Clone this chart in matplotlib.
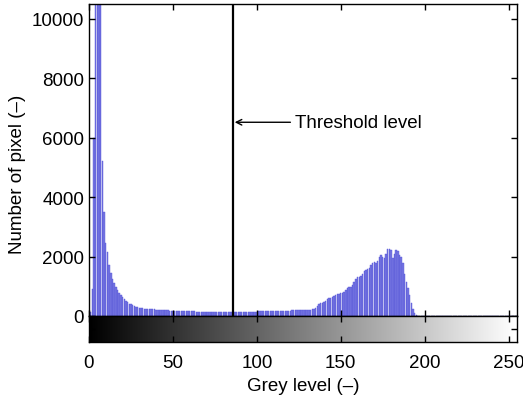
import numpy as np
import matplotlib
matplotlib.use("Agg")
import matplotlib.pyplot as plt

plt.rcParams['font.family'] = ['Liberation Sans', 'DejaVu Sans']

# histogram counts for grey levels 0..255
counts_0_39 = [0, 150, 900, 6000, 16000, 22000, 18000, 12500, 5200, 3500,
               2450, 2150, 1700, 1450, 1250, 1100, 980, 870, 780, 700,
               640, 580, 520, 470, 420, 390, 360, 330, 305, 290,
               275, 265, 255, 250, 240, 240, 235, 230, 225, 220]
counts_40_89 = [215, 210, 205, 200, 200, 195, 190, 190, 185, 185,
                180, 180, 175, 175, 170, 170, 170, 165, 165, 160,
                160, 160, 155, 155, 150, 150, 150, 148, 145, 145,
                145, 140, 140, 140, 138, 135, 135, 135, 135, 130,
                130, 130, 128, 128, 125, 125, 130, 128, 130, 132]
counts_90_129 = [135, 135, 138, 140, 140, 142, 145, 145, 148, 150,
                 150, 152, 155, 155, 158, 160, 160, 162, 165, 165,
                 168, 170, 170, 172, 175, 175, 178, 180, 180, 182,
                 185, 188, 190, 192, 195, 198, 200, 200, 200, 200]
counts_130_199 = [200, 205, 210, 220, 235, 260, 320, 400, 430, 450,
                  460, 500, 560, 590, 610, 630, 660, 700, 730, 750,
                  760, 780, 800, 860, 930, 970, 990, 1050, 1150, 1250,
                  1300, 1320, 1350, 1420, 1500, 1560, 1580, 1600, 1700, 1780,
                  1820, 1780, 1850, 2000, 2040, 1990, 1960, 2100, 2250, 2260,
                  2230, 1950, 2100, 2220, 2200, 2050, 2000, 1800, 1400, 1150,
                  950, 700, 450, 250, 100, 40, 15, 5, 0, 0]
counts_200_255 = [0] * 56

counts = np.array(counts_0_39 + counts_40_89 + counts_90_129
                  + counts_130_199 + counts_200_255)
grey = np.arange(len(counts))

threshold = 86
x_ticks = [0, 50, 100, 150, 200, 250]
y_ticks = [0, 2000, 4000, 6000, 8000, 10000]

fs = 13.5
fig = plt.figure(figsize=(5.23, 4.06), dpi=100)
ax = fig.add_axes([89/523, 1 - 317/406, 428/523, 312/406])
cax = fig.add_axes([89/523, 1 - 343/406, 428/523, 26/406])

ax.bar(grey, counts, width=0.85, color='#7676e2', edgecolor='#5555d8',
       linewidth=0.3)
ax.axvline(threshold, color='black', lw=1.6)
ax.annotate('', xy=(threshold + 0.8, 6520), xytext=(120, 6520),
            arrowprops=dict(arrowstyle='->', lw=1.0, color='black',
                            shrinkA=0, shrinkB=0))
ax.text(122.5, 6520, 'Threshold level', va='center', ha='left', fontsize=fs)

ax.set_xlim(0, 255)
ax.set_ylim(0, 10500)
ax.set_xticks(x_ticks)
ax.set_yticks(y_ticks)
ax.tick_params(direction='in', length=4, width=1, top=True, right=True,
               labelbottom=False, labelsize=fs)
for s in ax.spines.values():
    s.set_linewidth(1.0)

# grey level bar below the histogram
cax.imshow(np.linspace(0, 1, 256)[None, :], cmap='gray', aspect='auto',
           extent=[0, 255, 0, 1], interpolation='bilinear')
cax.set_xlim(0, 255)
cax.set_ylim(0, 1)
cax.set_xticks(x_ticks)
cax.set_yticks([0.5])
cax.tick_params(direction='in', length=4, width=1, top=True, right=True,
                labelleft=False, labelsize=fs, pad=9)
for s in cax.spines.values():
    s.set_linewidth(1.0)
cax.set_xlabel('Grey level (\u2013)', fontsize=fs, labelpad=4)

fig.text(18/523, 1 - 174/406, 'Number of pixel (\u2013)', rotation=90,
         ha='center', va='center', fontsize=fs)

fig.savefig('out.png', dpi=100)
